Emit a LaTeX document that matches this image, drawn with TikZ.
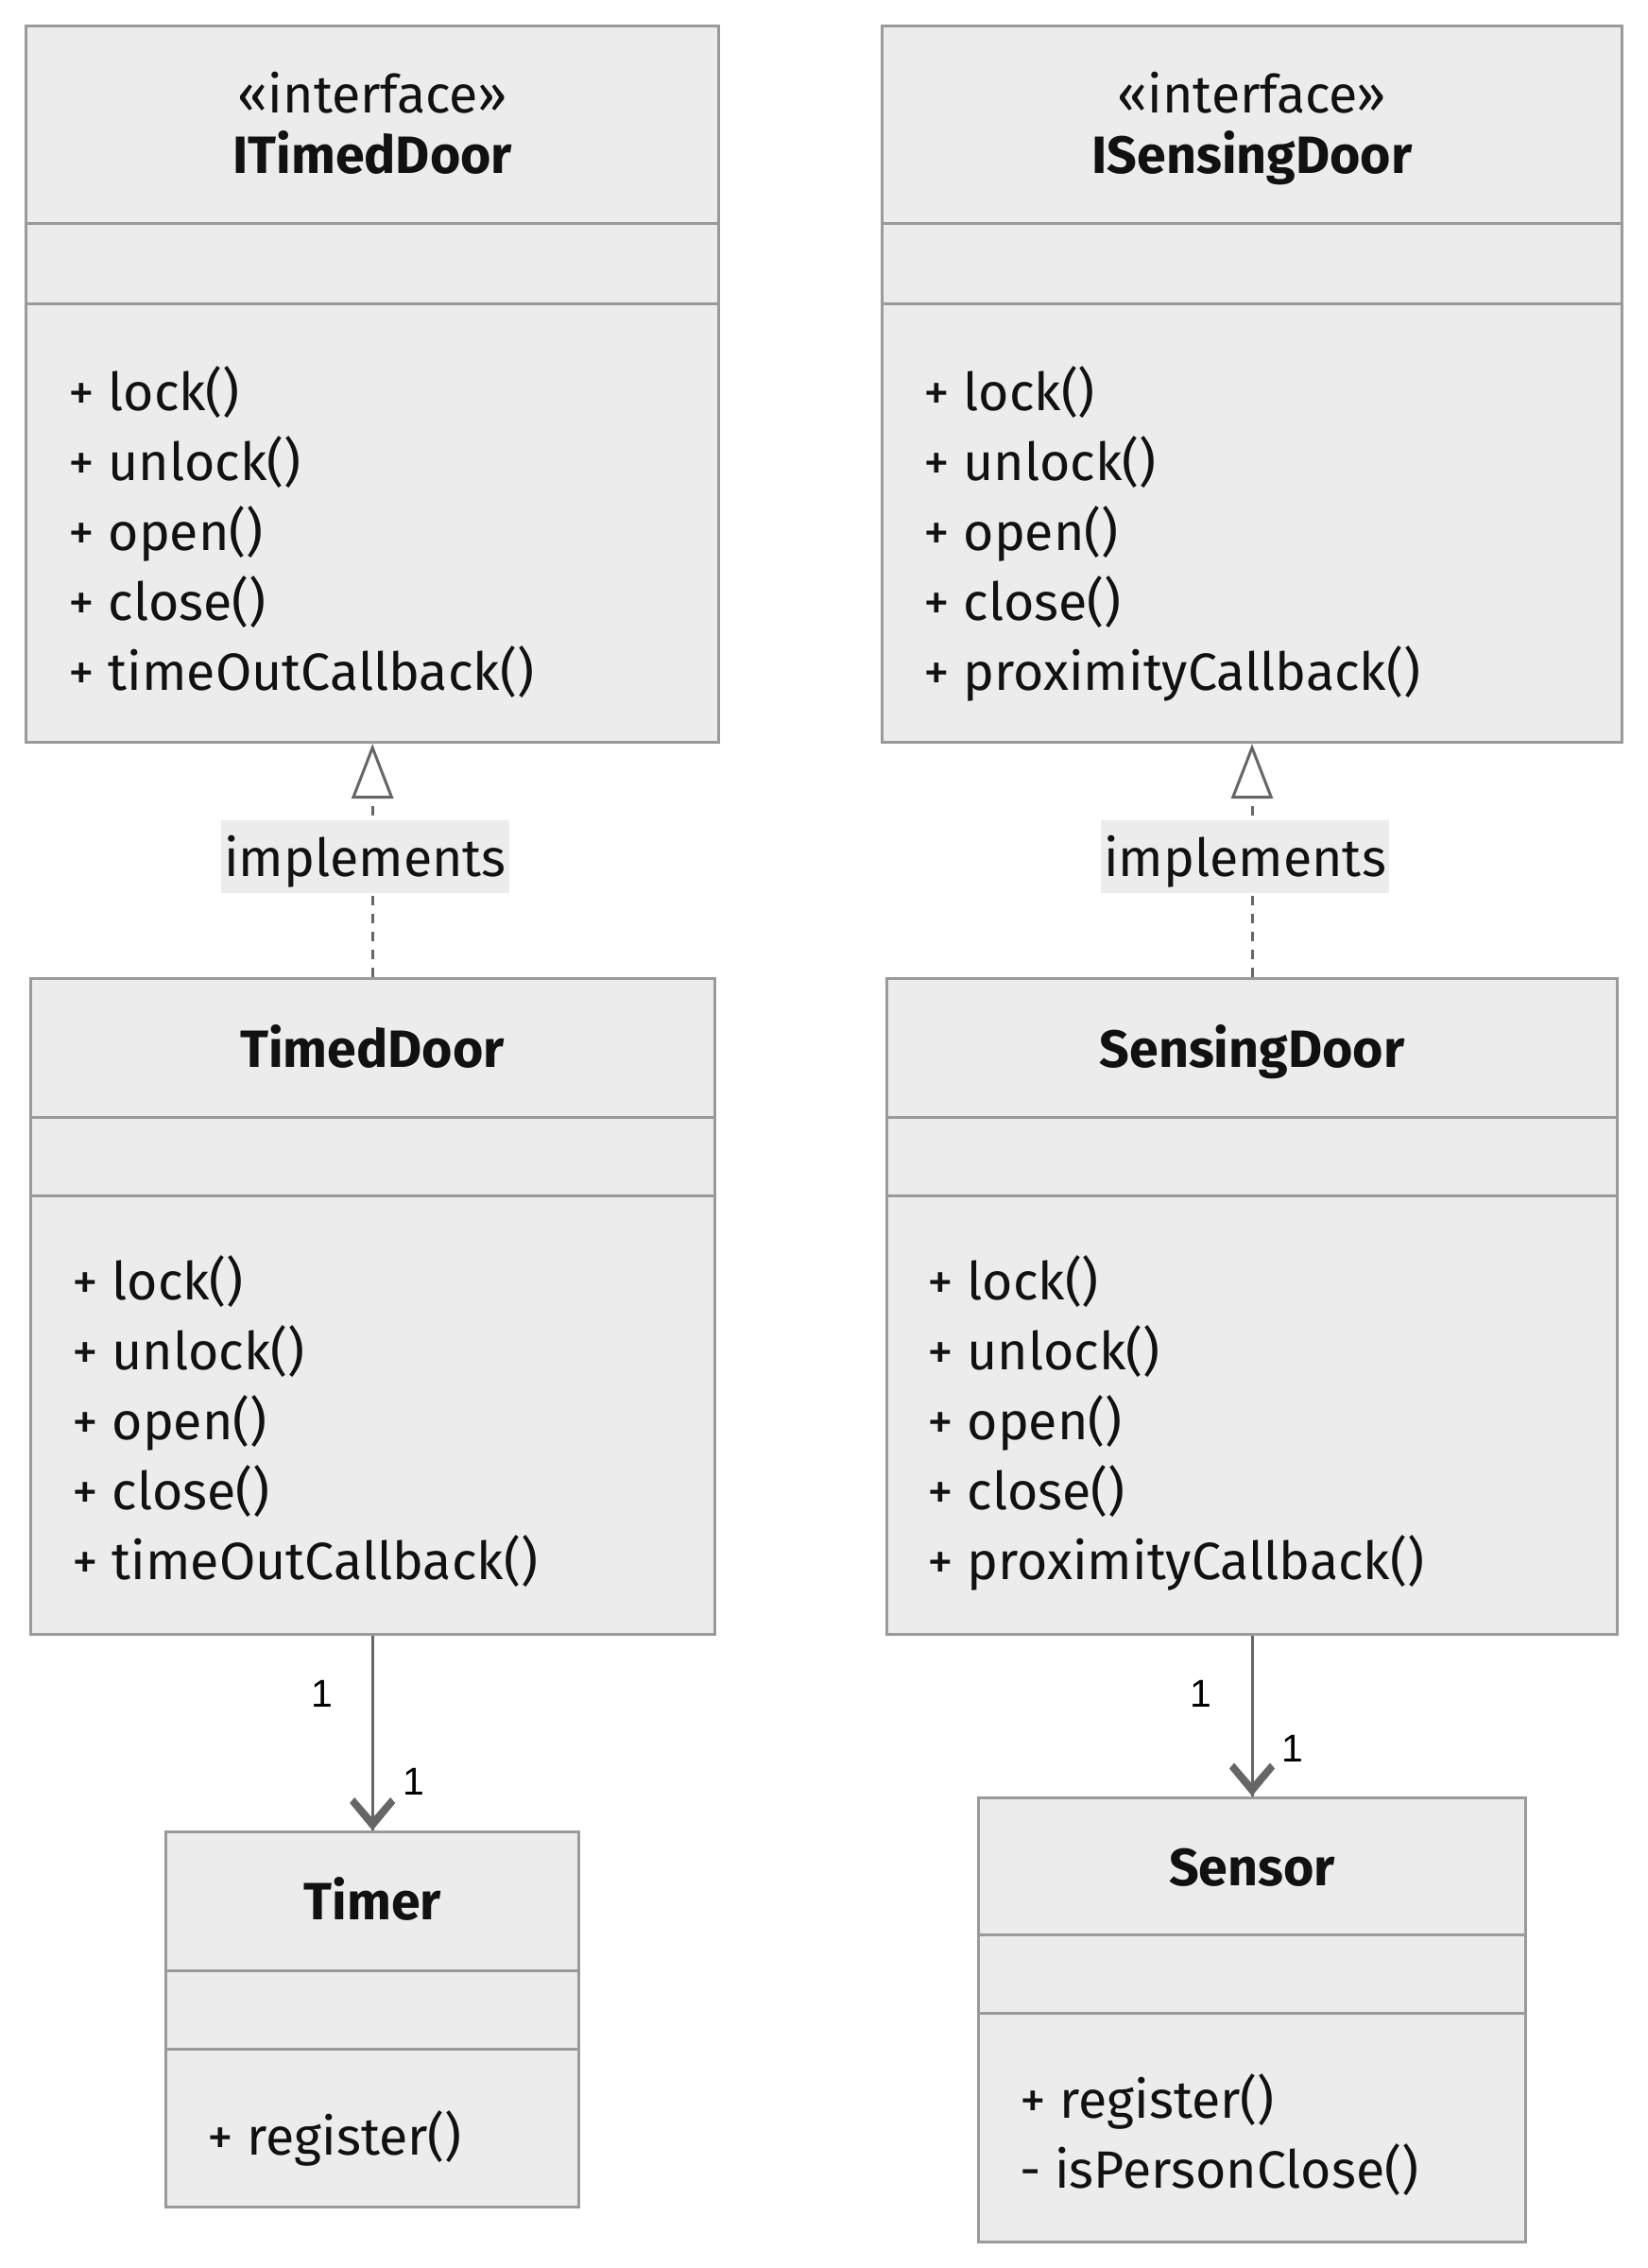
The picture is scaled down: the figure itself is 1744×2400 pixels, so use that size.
\documentclass[tikz,border=0pt]{standalone}
\usepackage{fontspec}
\setmainfont{Fira Sans}
\newfontfamily\multfont{Liberation Sans}
\usetikzlibrary{arrows.meta}
\definecolor{boxfill}{HTML}{ECECEC}
\definecolor{boxline}{HTML}{9A9A9A}
\definecolor{conn}{HTML}{666666}
\definecolor{txt}{HTML}{111111}
\begin{document}
\begin{tikzpicture}[x=1pt,y=-1pt,
  classbox/.style={draw=boxline, fill=boxfill, line width=3pt, inner sep=0pt, rectangle},
  divider/.style={draw=boxline, line width=3pt},
  member/.style={anchor=base west, inner sep=0pt, text=txt, font=\fontsize{55.5}{66}\selectfont},
  ctitle/.style={anchor=base, inner sep=0pt, text=txt, font=\fontsize{55.5}{66}\selectfont\bfseries},
  stereo/.style={anchor=base, inner sep=0pt, text=txt, font=\fontsize{55.5}{66}\selectfont},
  impl/.style={draw=conn, line width=3pt, dash pattern=on 10pt off 9pt, -{Triangle[open, length=58pt, width=44pt]}},
  assoc/.style={draw=conn, line width=3pt},
  lbl/.style={fill=boxfill, inner sep=0pt, minimum width=305pt, minimum height=77pt, text height=41pt, text depth=0pt, text=txt, font=\fontsize{55.5}{66}\selectfont},
  mult/.style={text=black, inner sep=0pt, font=\multfont\fontsize{41}{48}\selectfont},
  chev/.pic={\fill[conn] (0,0) -- (-24,-29) -- (-19,-35) -- (0,-13) -- (19,-35) -- (24,-29) -- cycle;}
]
\useasboundingbox (0,0) rectangle (1744,2400);
\fill[white] (0,0) rectangle (1744,2400);

% ---- class boxes
\node[classbox, minimum width=733.4pt, minimum height=757.9pt] (itd) at (394.2,406.55) {};
\node[classbox, minimum width=782.5pt, minimum height=757.9pt] (isd) at (1325,406.55) {};
\node[classbox, minimum width=724pt, minimum height=694pt] (td) at (394.2,1382) {};
\node[classbox, minimum width=773.4pt, minimum height=694pt] (sd) at (1325,1382) {};
\node[classbox, minimum width=436.5pt, minimum height=396.5pt] (timer) at (394.2,2136.75) {};
\node[classbox, minimum width=579pt, minimum height=470pt] (sensor) at (1325,2137) {};

% ---- dividers
\draw[divider] (27.6,237) -- (761,237);
\draw[divider] (27.6,321.5) -- (761,321.5);
\draw[divider] (934,237) -- (1716.5,237);
\draw[divider] (934,321.5) -- (1716.5,321.5);
\draw[divider] (32,1182) -- (756,1182);
\draw[divider] (32,1265) -- (756,1265);
\draw[divider] (938.6,1182) -- (1711.6,1182);
\draw[divider] (938.6,1265) -- (1711.6,1265);
\draw[divider] (176,2085.5) -- (612.5,2085.5);
\draw[divider] (176,2168) -- (612.5,2168);
\draw[divider] (1035,2047) -- (1614,2047);
\draw[divider] (1035,2130) -- (1614,2130);

% ---- ITimedDoor
\node[stereo] (itdst) at (394.2,120) {«interface»};
\node[ctitle] (itdt) at (394.2,184) {ITimedDoor};
\node[member] (itd1) at (72,434) {+ lock()};
\node[member] (itd2) at (72,508) {+ unlock()};
\node[member] (itd3) at (72,582) {+ open()};
\node[member] (itd4) at (72,656) {+ close()};
\node[member] (itd5) at (72,730) {+ timeOutCallback()};

% ---- ISensingDoor
\node[stereo] (isdst) at (1325,120) {«interface»};
\node[ctitle] (isdt) at (1325,184) {ISensingDoor};
\node[member] (isd1) at (977,434) {+ lock()};
\node[member] (isd2) at (977,508) {+ unlock()};
\node[member] (isd3) at (977,582) {+ open()};
\node[member] (isd4) at (977,656) {+ close()};
\node[member] (isd5) at (977,730) {+ proximityCallback()};

% ---- TimedDoor
\node[ctitle] (tdt) at (394.2,1129) {TimedDoor};
\node[member] (td1) at (76,1375) {+ lock()};
\node[member] (td2) at (76,1449) {+ unlock()};
\node[member] (td3) at (76,1523) {+ open()};
\node[member] (td4) at (76,1597) {+ close()};
\node[member] (td5) at (76,1671) {+ timeOutCallback()};

% ---- SensingDoor
\node[ctitle] (sdt) at (1325,1129) {SensingDoor};
\node[member] (sd1) at (981,1375) {+ lock()};
\node[member] (sd2) at (981,1449) {+ unlock()};
\node[member] (sd3) at (981,1523) {+ open()};
\node[member] (sd4) at (981,1597) {+ close()};
\node[member] (sd5) at (981,1671) {+ proximityCallback()};

% ---- Timer
\node[ctitle] (timert) at (394.2,2031) {Timer};
\node[member] (timer1) at (219,2280) {+ register()};

% ---- Sensor
\node[ctitle] (sensort) at (1325,1995) {Sensor};
\node[member] (sensor1) at (1079,2241) {+ register()};
\node[member] (sensor2) at (1079,2315) {- isPersonClose()};

% ---- realization connectors
\draw[impl] (td.north) -- (itd.south);
\draw[impl] (sd.north) -- (isd.south);
\node[lbl] (imp1) at (386.5,906.5) {implements};
\node[lbl] (imp2) at (1317.5,906.5) {implements};

% ---- associations
\draw[assoc] (td.south) -- (timer.north);
\pic at (timer.north) {chev};
\draw[assoc] (sd.south) -- (sensor.north);
\pic at (sensor.north) {chev};
\node[mult] (m1) at (341,1792) {1};
\node[mult] (m2) at (438,1885) {1};
\node[mult] (m3) at (1271,1792) {1};
\node[mult] (m4) at (1368,1850) {1};
\end{tikzpicture}
\end{document}
